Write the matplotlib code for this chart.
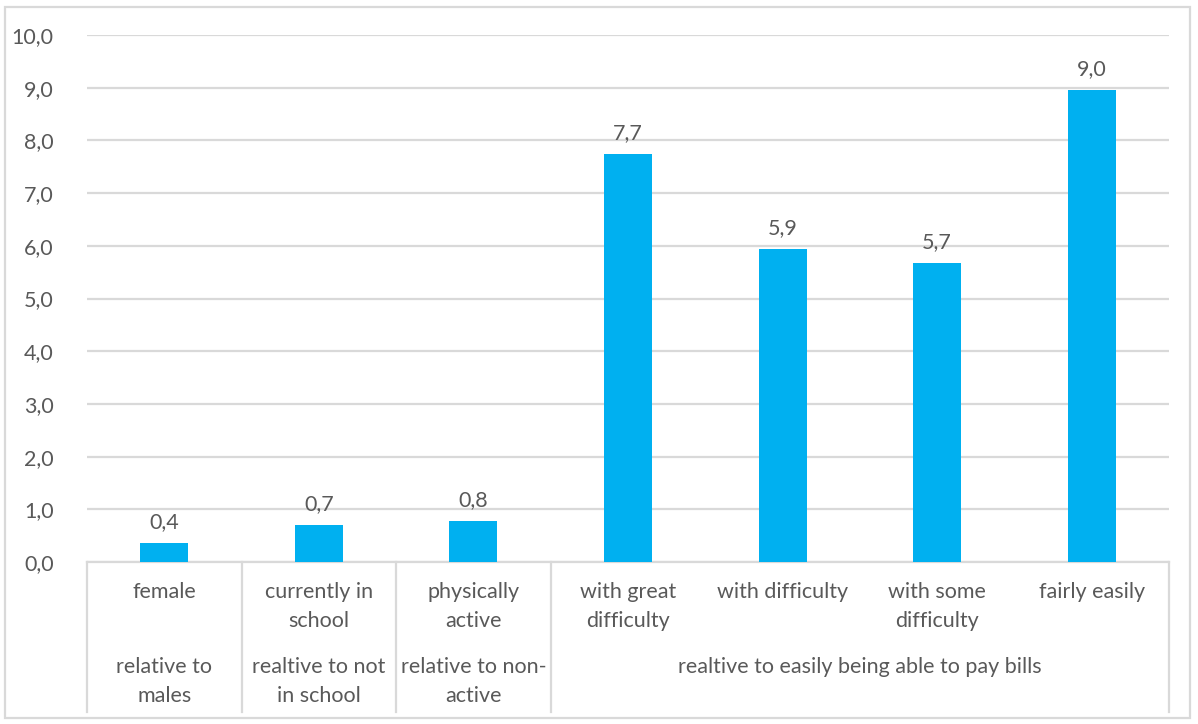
import matplotlib.pyplot as plt
import matplotlib.transforms as mtransforms
from matplotlib.patches import Rectangle
from matplotlib.lines import Line2D

# data
categories = ["female", "currently in\nschool", "physically\nactive",
              "with great\ndifficulty", "with difficulty", "with some\ndifficulty",
              "fairly easily"]
values = [0.36, 0.70, 0.77, 7.74, 5.93, 5.67, 8.96]
groups = ["relative to\nmales", "realtive to not\nin school", "relative to non-\nactive",
          "realtive to easily being able to pay bills"]
group_spans = [(0, 0), (1, 1), (2, 2), (3, 6)]
yticks = [0, 1, 2, 3, 4, 5, 6, 7, 8, 9, 10]

W, H = 1198, 724
plt.rcParams['font.family'] = ['Lato', 'DejaVu Sans']
txt_color = "#595959"
grid_color = "#d9d9d9"
bar_color = "#00b0f0"
fs = 15.5

fig = plt.figure(figsize=(W / 100, H / 100), dpi=100)
ax = fig.add_axes([87 / W, 1 - 562 / H, (1169 - 87) / W, (562 - 35) / H])

x = list(range(len(categories)))
ax.bar(x, values, width=0.31, color=bar_color, zorder=3)
for xi, v in zip(x, values):
    ax.annotate(f"{v:.1f}".replace(".", ","), (xi, v), xytext=(0, 8),
                textcoords="offset points", ha="center", va="bottom",
                fontsize=fs, color=txt_color)

ax.set_xlim(-0.5, len(categories) - 0.5)
ax.set_ylim(0, 10)
ax.set_yticks(yticks)
ax.set_yticklabels([f"{t:.1f}".replace(".", ",") for t in yticks])
ax.tick_params(axis="y", length=0, pad=24, labelsize=fs, labelcolor=txt_color)
ax.set_xticks([])
ax.grid(axis="y", color=grid_color, linewidth=1.6, zorder=0)
for s in ["top", "right", "left"]:
    ax.spines[s].set_visible(False)
ax.spines["bottom"].set_color(grid_color)
ax.spines["bottom"].set_linewidth(1.6)

# multi-level category axis
tr = mtransforms.blended_transform_factory(ax.transData, fig.transFigure)
y0 = 1 - 562 / H
y1 = 1 - 712 / H
for b in [-0.5, 0.5, 1.5, 2.5, 6.5]:
    fig.add_artist(Line2D([b, b], [y0, y1], transform=tr, color=grid_color, linewidth=1.6))

for xi, c in zip(x, categories):
    fig.text(xi, 1 - 582 / H, c, transform=tr, ha="center", va="top",
             fontsize=fs, color=txt_color, linespacing=1.55)
for g, (a, b) in zip(groups, group_spans):
    fig.text((a + b) / 2, 1 - 657 / H, g, transform=tr, ha="center", va="top",
             fontsize=fs, color=txt_color, linespacing=1.55)

# outer chart border
fig.add_artist(Rectangle((5 / W, 1 - 718 / H), (1190 - 5) / W, (718 - 7) / H,
                         transform=fig.transFigure, fill=False,
                         edgecolor=grid_color, linewidth=1.6))

fig.savefig("out.png", dpi=100)
